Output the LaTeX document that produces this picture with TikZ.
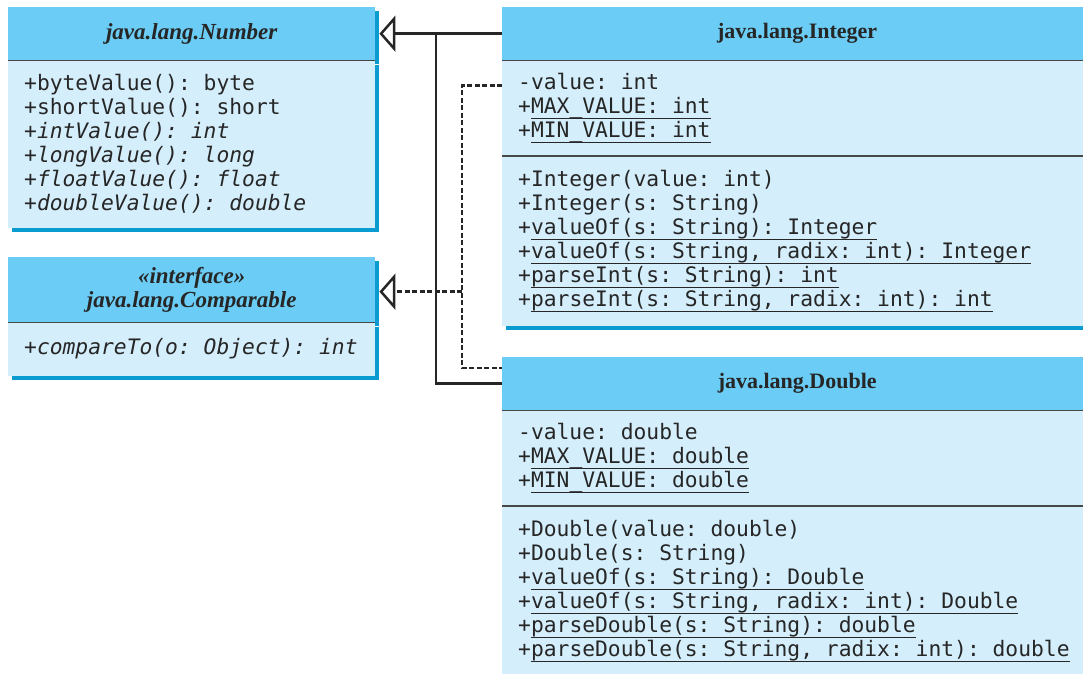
\documentclass[tikz,border=0pt]{standalone}
\usepackage{fontspec}
\setmainfont{Liberation Serif}
\setmonofont{DejaVu Sans Mono}
\usepackage{tikz}
\usetikzlibrary{arrows.meta,calc,positioning,shadows}
\definecolor{head}{HTML}{6BCDF5}
\definecolor{fill}{HTML}{D4EEFB}
\definecolor{shade}{HTML}{0A9BD0}
\definecolor{ink}{HTML}{262626}
\definecolor{rule}{HTML}{474747}
\newsavebox\stbox
\newcommand{\st}[1]{\sbox\stbox{#1}\rlap{\usebox\stbox}\rule[-6pt]{\wd\stbox}{1.4pt}}
\newcommand{\monospacing}{\spaceskip=.602em\relax\xspaceskip=.602em\relax}
\tikzset{box/.style={inner ysep=0pt,text=ink,drop shadow={fill=shade,opacity=1,shadow xshift=4pt,shadow yshift=-4pt}},hdr/.style={box,fill=head,inner xsep=0pt,align=center,minimum height=53pt,font=\fontsize{22}{24}\selectfont\bfseries},ahdr/.style={hdr,font=\fontsize{23}{24}\selectfont\bfseries\itshape},mbr/.style={box,fill=fill,inner xsep=16pt,align=flush left,font=\fontsize{21.3}{24}\selectfont\ttfamily\monospacing},divider/.style={draw=rule,line width=1.8pt},gen/.style={-{Triangle[open,length=16pt,width=36pt]},draw=ink,line width=2.5pt},real/.style={draw=ink,line width=2.5pt,dash pattern=on 5pt off 2.5pt}}

\begin{document}
\begin{tikzpicture}[x=1pt,y=-1pt]
\useasboundingbox (0,0) rectangle (1083,673);
% left column: abstract class and interface
\node[ahdr,anchor=north west,text width=367pt] (numH) at (8,7) {java.lang.Number};
\node[mbr,below=0pt of numH,text width=335pt,minimum height=167pt] (numB) {+byteValue(): byte\\+shortValue(): short\\{\itshape +intValue(): int}\\{\itshape +longValue(): long}\\{\itshape +floatValue(): float}\\{\itshape +doubleValue(): double}};
\node[ahdr,anchor=north west,text width=367pt,minimum height=65pt] (cmpH) at (8,257) {«interface»\\java.lang.Comparable};
\node[mbr,below=0pt of cmpH,text width=335pt,minimum height=53pt] (cmpB) {{\itshape +compareTo(o: Object): int}};
% right column: the two wrapper classes
\node[hdr,anchor=north west,text width=590pt] (intH) at (502,7) {java.lang.Integer};
\node[mbr,below=0pt of intH,text width=558pt,minimum height=95pt] (intA) {-value: int\\+\st{MAX\textunderscore VALUE: int}\\+\st{MIN\textunderscore VALUE: int}};
\node[mbr,below=0pt of intA,text width=558pt,minimum height=170pt] (intM) {+Integer(value: int)\\+Integer(s: String)\\+\st{valueOf(s: String): Integer}\\+\st{valueOf(s: String, radix: int): Integer}\\+\st{parseInt(s: String): int}\\+\st{parseInt(s: String, radix: int): int}};
\node[hdr,anchor=north west,text width=590pt] (dblH) at (502,357) {java.lang.Double};
\node[mbr,below=0pt of dblH,text width=558pt,minimum height=95pt] (dblA) {-value: double\\+\st{MAX\textunderscore VALUE: double}\\+\st{MIN\textunderscore VALUE: double}};
\node[mbr,below=0pt of dblA,text width=558pt,minimum height=170pt] (dblM) {+Double(value: double)\\+Double(s: String)\\+\st{valueOf(s: String): Double}\\+\st{valueOf(s: String, radix: int): Double}\\+\st{parseDouble(s: String): double}\\+\st{parseDouble(s: String, radix: int): double}};
\foreach \n in {numH,cmpH,intH,intA,dblH,dblA} \draw[divider] (\n.south west) -- (\n.south east);
% connectors
\coordinate (solidbus) at (436,0); \coordinate (dashbus) at (462,0);
\coordinate (intR) at ($(intA.north west)+(0,25)$); \coordinate (dblR) at ($(dblH.north west)+(0,11)$);
\coordinate (numT) at ($(numH.east)+(4,0)$); \coordinate (cmpT) at ($(cmpH.east)+(4,2)$);
\draw[gen] (intH.west) -- (numT);
\draw[gen,-] (dblH.west) -| (solidbus |- intH.west);
\draw[real] (intR) -| (dashbus |- dblR) -- (dblR);
\draw[real,gen] (dashbus |- cmpT) -- (cmpT);
\end{tikzpicture}
\end{document}
